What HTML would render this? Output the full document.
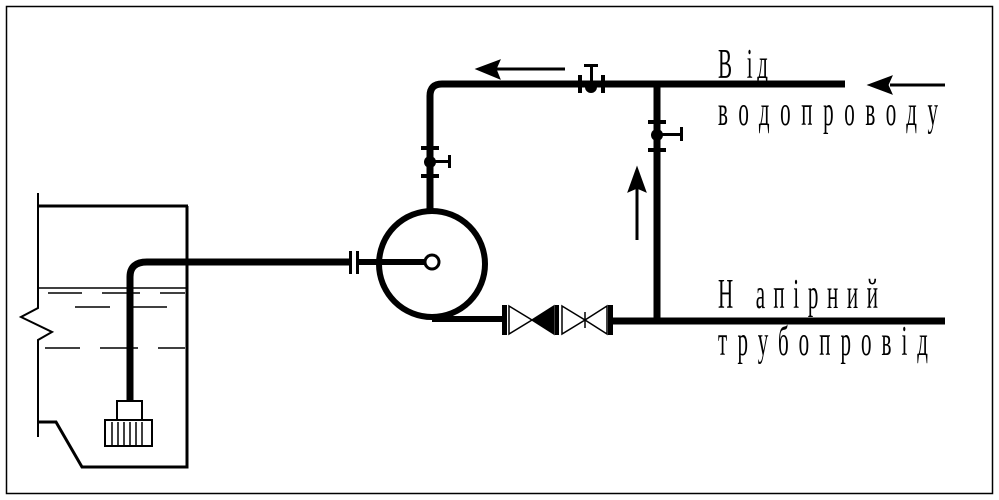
<!DOCTYPE html>
<html><head><meta charset="utf-8"><style>html,body{margin:0;padding:0;background:#fff}svg{display:block}</style></head>
<body>
<svg width="999" height="500" viewBox="0 0 999 500" xmlns="http://www.w3.org/2000/svg">
<rect x="6.5" y="6.5" width="986" height="487" fill="none" stroke="#000" stroke-width="1.5"/>
<g stroke="#000" fill="none" stroke-width="2">
<polyline points="38,193 38,308 21,317 52,332 38,340 38,437"/>
<line x1="38" y1="206" x2="188" y2="206" stroke-width="3"/>
<polyline points="187,206 187,467 82,467 56,422 38,422" stroke-width="3"/>
<line x1="38" y1="288" x2="187" y2="288" stroke-width="1.5"/>
<g stroke-width="1.5">
<line x1="48" y1="293" x2="82" y2="293"/><line x1="102" y1="293" x2="140" y2="293"/><line x1="160" y1="293" x2="185" y2="293"/>
<line x1="75" y1="307" x2="110" y2="307"/><line x1="133" y1="307" x2="167" y2="307"/>
<line x1="45" y1="348" x2="80" y2="348"/><line x1="100" y1="348" x2="138" y2="348"/><line x1="158" y1="348" x2="185" y2="348"/>
</g>
</g>
<path d="M130,400 V277 Q130,262 147,262 H350" stroke="#000" stroke-width="7" fill="none"/>
<path d="M358,262 H426" stroke="#000" stroke-width="6" fill="none"/>
<rect x="349" y="251" width="3" height="23" fill="#000"/><rect x="356" y="251" width="3" height="23" fill="#000"/>
<g stroke="#000" fill="#fff" stroke-width="2">
<rect x="117" y="401" width="25" height="19"/>
<rect x="105" y="420" width="47" height="26"/>
</g>
<g stroke="#000" stroke-width="1.5">
<line x1="112" y1="422" x2="112" y2="446"/><line x1="118" y1="422" x2="118" y2="446"/><line x1="124" y1="422" x2="124" y2="446"/><line x1="130" y1="422" x2="130" y2="446"/><line x1="136" y1="422" x2="136" y2="446"/><line x1="142" y1="422" x2="142" y2="446"/>
</g>
<circle cx="432" cy="264" r="53" stroke="#000" stroke-width="6" fill="none"/>
<circle cx="432" cy="262" r="7" stroke="#000" stroke-width="3" fill="#fff"/>
<line x1="432" y1="319" x2="503" y2="319" stroke="#000" stroke-width="6"/>
<path d="M430,210 V96 Q430,84 442,84 H845" stroke="#000" stroke-width="7" fill="none"/>
<g fill="#000">
<rect x="421" y="146" width="18" height="4"/><rect x="421" y="174" width="18" height="4"/>
<circle cx="430" cy="162" r="6"/><rect x="430" y="160" width="20" height="3"/><rect x="448" y="155" width="3" height="13"/>
<rect x="578" y="75" width="4" height="18"/><rect x="601" y="75" width="4" height="18"/>
<circle cx="591" cy="87" r="6"/><rect x="590" y="66" width="3" height="20"/><rect x="584" y="64" width="14" height="3"/>
</g>
<line x1="657" y1="84" x2="657" y2="322" stroke="#000" stroke-width="7"/>
<g fill="#000">
<rect x="648" y="120" width="18" height="4"/><rect x="648" y="148" width="18" height="4"/>
<circle cx="657" cy="135" r="6"/><rect x="657" y="133" width="25" height="3"/><rect x="680" y="127" width="3" height="14"/>
</g>
<line x1="612" y1="321" x2="945" y2="321" stroke="#000" stroke-width="7"/>
<g fill="#000"><rect x="502" y="305" width="5" height="30"/><rect x="555" y="305" width="4" height="30"/><rect x="608" y="305" width="5" height="30"/></g>
<g stroke="#000" stroke-width="1.5" fill="#fff">
<polygon points="509,306 532,320 509,334"/>
<polygon points="532,320 554,306 554,334" fill="#000"/>
<polygon points="562,306 585,320 562,334"/>
<polygon points="585,320 607,306 607,334"/>
<line x1="585" y1="312" x2="585" y2="328"/>
</g>
<g stroke="#000" stroke-width="3" fill="#000">
<line x1="565" y1="69" x2="495" y2="69"/>
<polygon points="476,69 500,60 496,69 500,79" stroke-width="1"/>
<line x1="945" y1="85" x2="890" y2="85"/>
<polygon points="868,85 892,76 888,85 892,94" stroke-width="1"/>
<line x1="637" y1="240" x2="637" y2="188"/>
<polygon points="637,167 628,192 637,188 646,192" stroke-width="1"/>
</g>
<g font-family="Liberation Serif, DejaVu Serif, serif" fill="#000" font-size="42">
<g transform="translate(718,78) scale(0.5,1)"><text x="0" y="0" textLength="100" lengthAdjust="spacing">В ід</text></g>
<g transform="translate(718,125) scale(0.5,1)"><text x="0" y="0" textLength="440" lengthAdjust="spacing">водопроводу</text></g>
<g transform="translate(718,308) scale(0.5,1)"><text x="0" y="0" textLength="320" lengthAdjust="spacing">Н апірний</text></g>
<g transform="translate(718,355) scale(0.5,1)"><text x="0" y="0" textLength="420" lengthAdjust="spacing">трубопровід</text></g>
</g>
</svg>
</body></html>
